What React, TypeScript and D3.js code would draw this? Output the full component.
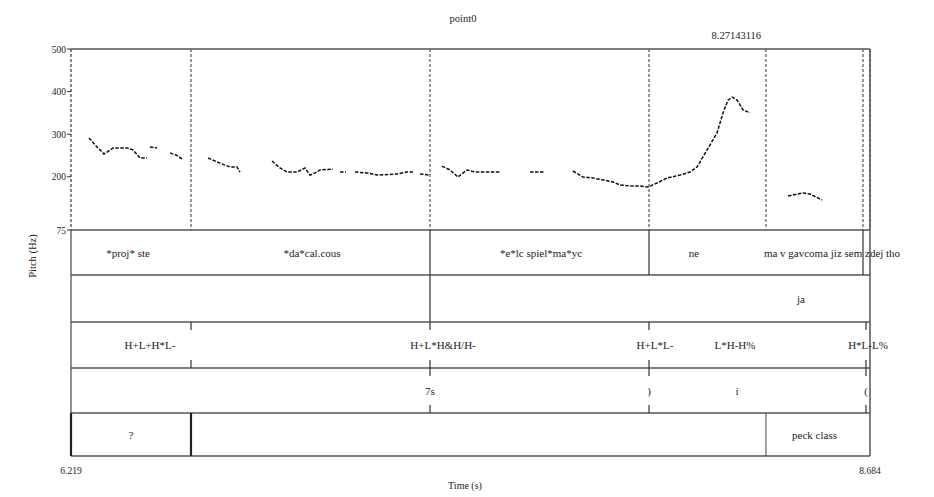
import React from "react";
import * as d3 from "d3";

// Time window (s) and pitch range (Hz)
const timeRange: [number, number] = [6.219, 8.684];
const pitchRange: [number, number] = [75, 500];
const pitchTicks = [75, 200, 300, 400, 500];
const cursorTime = 8.27143116;
const title = "point0";

// Pitch contour, voiced stretches as [time, Hz]
const pitchSegments: [number, number][][] = [
  [[6.2745, 291], [6.2992, 270], [6.3208, 253.5], [6.3301, 258], [6.3486, 267.5], [6.3918, 267.5], [6.4103, 263], [6.4319, 244], [6.4535, 244]],
  [[6.4627, 270], [6.4843, 267.5]],
  [[6.5244, 256], [6.5429, 251], [6.5614, 242]],
  [[6.6417, 244], [6.6787, 232], [6.7095, 223], [6.7311, 223], [6.7404, 211]],
  [[6.8391, 237], [6.8638, 220.6], [6.8854, 211], [6.9163, 211], [6.9409, 220.6], [6.9563, 204], [6.9718, 209], [6.9872, 216], [7.0273, 218]],
  [[7.0489, 211], [7.0674, 211]],
  [[7.0952, 211], [7.1322, 209], [7.163, 204], [7.2247, 206.5], [7.2556, 211], [7.2741, 211]],
  [[7.2957, 206.5], [7.3265, 204]],
  [[7.3636, 225], [7.3883, 216], [7.4129, 199.5], [7.4407, 216], [7.4654, 211], [7.5117, 211], [7.5425, 211]],
  [[7.6351, 211], [7.6813, 211]],
  [[7.7677, 213.5], [7.7986, 199.5], [7.8295, 197], [7.8603, 192.4], [7.8912, 187.7], [7.9128, 180.7], [7.9436, 178.3], [7.9745, 178.3], [7.9992, 176], [8.027, 185.4], [8.0578, 197], [8.0979, 204], [8.1288, 211], [8.1504, 223], [8.1813, 263], [8.2121, 303], [8.2306, 350], [8.2461, 380], [8.2584, 387], [8.2739, 380], [8.2924, 357], [8.314, 350]],
  [[8.431, 155], [8.4773, 162], [8.4989, 159.5], [8.5359, 145.4]],
];

// Dotted boundary lines through the pitch panel
const panelBoundaries = [6.5892, 7.3266, 8.0022, 8.3631, 8.6624, 8.684];

// Tier 1: words
const wordBoundaries = [7.3266, 8.0022, 8.6624];
const wordLabels = [
  { text: "*proj* ste", t: 6.3949 },
  { text: "*da*cal.cous", t: 6.9625 },
  { text: "*e*lc spiel*ma*yc", t: 7.669 },
  { text: "ne", t: 8.141 },
  { text: "ma v gavcoma jiz sem zdej tho", t: 8.5668 },
];

// Tier 2: phrase
const phraseBoundaries = [7.3266];
const phraseLabels = [{ text: "ja", t: 8.4712 }];

// Tier 3: tones (point tier)
const tonePoints = [6.5892, 7.3266, 8.0022, 8.6716];
const toneLabels = [
  { text: "H+L+H*L-", t: 6.4627 },
  { text: "H+L*H&H/H-", t: 7.3667 },
  { text: "H+L*L-", t: 8.0207 },
  { text: "L*H-H%", t: 8.2675 },
  { text: "H*L-L%", t: 8.6779 },
];

// Tier 4: breaks (point tier)
const breakPoints = [7.3266, 8.0022, 8.6716];
const breakLabels = [
  { text: "7s", t: 7.3266 },
  { text: ")", t: 8.0022 },
  { text: "i", t: 8.2737 },
  { text: "(", t: 8.6716 },
];

// Tier 5: misc
const miscBoundaries = [6.5892, 8.3631];
const miscLabels = [
  { text: "?", t: 6.4041 },
  { text: "peck class", t: 8.5128 },
];

const tierEdges = [230, 275, 322, 368, 413, 456];

export default function App() {
  const W = 934;
  const H = 497;
  const left = 71;
  const right = 870;
  const top = 49;
  const x = d3.scaleLinear().domain(timeRange).range([left, right]);
  const y = d3.scaleLinear().domain(pitchRange).range([230, top]);
  const line = d3
    .line<[number, number]>()
    .x((d) => x(d[0]))
    .y((d) => y(d[1]))
    .curve(d3.curveLinear);

  const font = "'Liberation Serif', 'DejaVu Serif', serif";
  const frame = "#555";
  const labelFs = 11;

  const tierMid = (i: number) => (tierEdges[i] + tierEdges[i + 1]) / 2;

  const pointTicks = (pts: number[], i: number, key: string) =>
    pts.map((t, j) => (
      <g key={key + j}>
        <line x1={x(t)} x2={x(t)} y1={tierEdges[i]} y2={tierEdges[i] + 8} stroke="#333" strokeWidth={1.2} />
        <line x1={x(t)} x2={x(t)} y1={tierEdges[i + 1] - 8} y2={tierEdges[i + 1]} stroke="#333" strokeWidth={1.2} />
      </g>
    ));

  const labels = (arr: { text: string; t: number }[], i: number, key: string) =>
    arr.map((l, j) => (
      <text key={key + j} x={x(l.t)} y={tierMid(i) + 4} textAnchor="middle" fontSize={labelFs} fill="#222">
        {l.text}
      </text>
    ));

  const boundaries = (arr: number[], i: number, key: string, sw = 1.2) =>
    arr.map((t, j) => (
      <line key={key + j} x1={x(t)} x2={x(t)} y1={tierEdges[i]} y2={tierEdges[i + 1]} stroke="#333" strokeWidth={sw} />
    ));

  return (
    <svg width={W} height={H} style={{ position: "absolute", left: 0, top: 0, background: "#fff" }} fontFamily={font}>
      <rect x={0} y={0} width={W} height={H} fill="#fff" />
      {/* title and cursor time */}
      <text x={463} y={22} textAnchor="middle" fontSize={10.5} fill="#222">{title}</text>
      <text x={x(cursorTime)} y={39} textAnchor="middle" fontSize={10.5} fill="#222">{cursorTime.toFixed(8)}</text>

      {/* pitch panel boundaries */}
      {panelBoundaries.map((t, i) => (
        <line key={"pb" + i} x1={x(t)} x2={x(t)} y1={top} y2={230} stroke="#333" strokeWidth={1} strokeDasharray="3 2" />
      ))}
      <line x1={left} x2={left} y1={top} y2={230} stroke="#333" strokeWidth={1.2} strokeDasharray="3 2" />

      {/* pitch contour */}
      {pitchSegments.map((seg, i) => (
        <path key={"ps" + i} d={line(seg) || ""} fill="none" stroke="#111" strokeWidth={1.5} strokeDasharray="3.5 1.5" />
      ))}

      {/* frame lines */}
      <line x1={left} x2={right} y1={top} y2={top} stroke={frame} strokeWidth={1.5} />
      {tierEdges.map((yy, i) => (
        <line key={"te" + i} x1={left} x2={right} y1={yy} y2={yy} stroke={frame} strokeWidth={1.5} />
      ))}
      <line x1={left} x2={left} y1={230} y2={456} stroke={frame} strokeWidth={1.3} />
      <line x1={right} x2={right} y1={top} y2={456} stroke={frame} strokeWidth={1.5} />

      {/* y axis */}
      {pitchTicks.map((v) => (
        <g key={"yt" + v}>
          <line x1={left - 4} x2={left} y1={y(v)} y2={y(v)} stroke="#333" strokeWidth={1} />
          <text x={left - 5} y={y(v) + 3.5} textAnchor="end" fontSize={9.5} fill="#222">{v}</text>
        </g>
      ))}
      <text transform={`translate(36,256) rotate(-90)`} textAnchor="middle" fontSize={10.5} fill="#222">Pitch (Hz)</text>

      {/* tier 1 */}
      {boundaries(wordBoundaries, 0, "wb")}
      {labels(wordLabels, 0, "wl")}
      {/* tier 2 */}
      {boundaries(phraseBoundaries, 1, "phb")}
      {labels(phraseLabels, 1, "phl")}
      {/* tier 3 */}
      {pointTicks(tonePoints, 2, "tp")}
      {labels(toneLabels, 2, "tl")}
      {/* tier 4 */}
      {pointTicks(breakPoints, 3, "bp")}
      {labels(breakLabels, 3, "bl")}
      {/* tier 5 */}
      <line x1={left} x2={left} y1={413} y2={456} stroke="#222" strokeWidth={2.2} />
      <line x1={x(miscBoundaries[0])} x2={x(miscBoundaries[0])} y1={413} y2={456} stroke="#222" strokeWidth={2.2} />
      <line x1={x(miscBoundaries[1])} x2={x(miscBoundaries[1])} y1={413} y2={456} stroke="#444" strokeWidth={1} />
      {labels(miscLabels, 4, "ml")}

      {/* time axis */}
      <text x={left} y={474} textAnchor="middle" fontSize={9.5} fill="#222">{timeRange[0].toFixed(3)}</text>
      <text x={right} y={474} textAnchor="middle" fontSize={9.5} fill="#222">{timeRange[1].toFixed(3)}</text>
      <text x={465} y={489} textAnchor="middle" fontSize={10} fill="#222">Time (s)</text>
    </svg>
  );
}
